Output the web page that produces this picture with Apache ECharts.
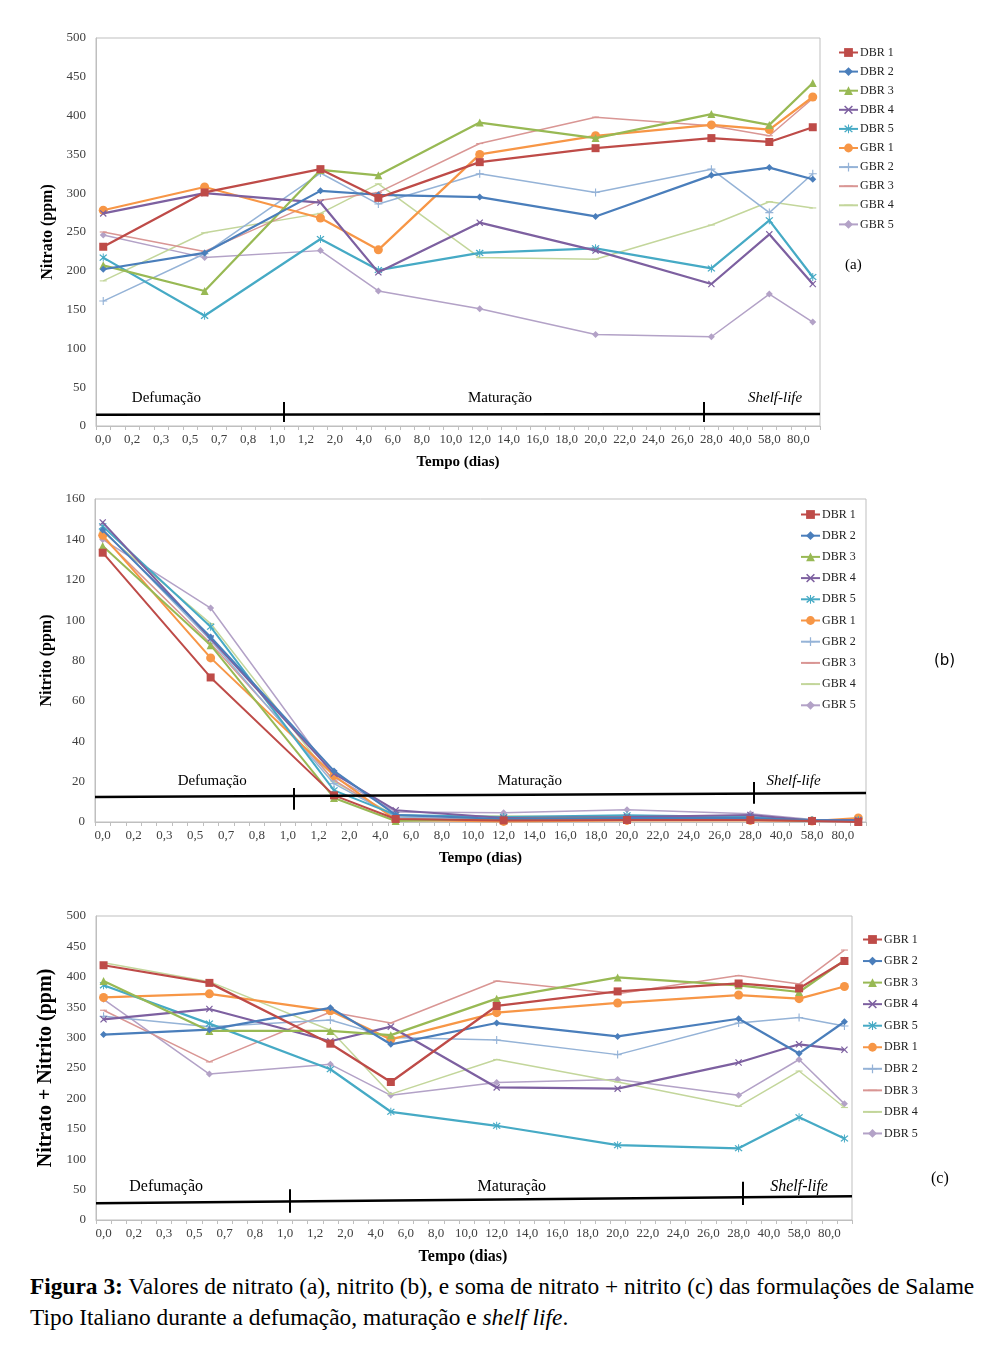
<!DOCTYPE html>
<html><head><meta charset="utf-8">
<script src="https://cdn.jsdelivr.net/npm/echarts@6/dist/echarts.min.js"></script>
<style>
html,body{margin:0;padding:0;background:#fff;}
#chart{position:absolute;left:0;top:0;width:1004px;height:1270px;}
#cap{position:absolute;left:30px;top:1271px;font-family:'Liberation Serif','Times New Roman',serif;font-size:23.4px;line-height:31px;color:#000;white-space:nowrap;}
</style></head><body>
<div id="chart"></div>
<div id="cap"><b>Figura 3:</b> Valores de nitrato (a), nitrito (b), e soma de nitrato + nitrito (c) das formulações de Salame<br>Tipo Italiano durante a defumação, maturação e <i>shelf life</i>.</div>
<script>
// ---------- axis categories / tick labels ----------
const tickLabels = ['0,0','0,2','0,3','0,5','0,7','0,8','1,0','1,2','2,0','4,0','6,0','8,0','10,0','12,0','14,0','16,0','18,0','20,0','22,0','24,0','26,0','28,0','40,0','58,0','80,0'];
// positions of the sampling days on the label scale (label index units)
const samplePos = [0, 3.5, 7.5, 9.5, 13, 17, 21, 23, 24.5];
const yTicksA = [0,50,100,150,200,250,300,350,400,450,500];
const yTicksB = [0,20,40,60,80,100,120,140,160];
const namesAB = ['DBR 1','DBR 2','DBR 3','DBR 4','DBR 5','GBR 1','GBR 2','GBR 3','GBR 4','GBR 5'];
const namesC  = ['GBR 1','GBR 2','GBR 3','GBR 4','GBR 5','DBR 1','DBR 2','DBR 3','DBR 4','DBR 5'];

// ---------- (a) Nitrato ----------
const nitratoDBR1 = [231, 301, 331, 294, 340, 358, 371, 366, 385];
const nitratoDBR2 = [202, 223, 303, 298, 295, 270, 323, 333, 318];
const nitratoDBR3 = [207, 174, 330, 323, 391, 371, 402, 388, 442];
const nitratoDBR4 = [274, 300, 288, 198, 262, 226, 183, 247, 183];
const nitratoDBR5 = [217, 142, 241, 201, 223, 229, 203, 265, 192];
const nitratoGBR1 = [278, 308, 268, 227, 350, 374, 388, 382, 424];
const nitratoGBR2 = [161, 222, 326, 286, 325, 301, 331, 275, 325];
const nitratoGBR3 = [250, 225, 291, 301, 364, 398, 387, 374, 422];
const nitratoGBR4 = [187, 249, 274, 312, 217, 215, 259, 289, 281];
const nitratoGBR5 = [246, 217, 226, 174, 151, 118, 115, 170, 134];

// ---------- (b) Nitrito ----------
const nitritoDBR1 = [133.4, 71.6, 13.2, 1.5, 0.8, 1.0, 1.0, 0.5, 0.0];
const nitritoDBR2 = [144.6, 91.7, 25.3, 3.5, 1.5, 2.0, 2.0, 0.8, 0.8];
const nitritoDBR3 = [136.7, 87.6, 11.9, 0.5, 1.5, 2.0, 1.5, 0.5, 0.5];
const nitritoDBR4 = [148.4, 90.9, 24.0, 5.8, 2.0, 2.5, 3.5, 0.8, 1.0];
const nitritoDBR5 = [146.5, 96.7, 15.7, 3.5, 2.5, 3.3, 2.5, 1.0, 1.0];
const nitritoGBR1 = [142.0, 81.3, 23.0, 1.0, 0.3, 0.8, 0.8, 0.5, 2.0];
const nitritoGBR2 = [145.0, 90.0, 19.0, 2.5, 1.0, 1.0, 1.5, 0.5, 0.5];
const nitritoGBR3 = [141.0, 88.4, 20.7, 2.0, 1.5, 1.5, 1.0, 0.5, 1.0];
const nitritoGBR4 = [143.8, 98.3, 20.0, 3.0, 3.0, 2.5, 2.0, 1.0, 0.5];
const nitritoGBR5 = [140.0, 106.0, 22.3, 5.0, 4.6, 6.1, 4.1, 1.3, 1.0];

// ---------- (c) Nitrato + Nitrito (legend order of panel c) ----------
const somaGBR1 = [419, 390, 290, 227, 352, 376, 389, 381, 426];
const somaGBR2 = [305, 313, 349, 289, 324, 302, 331, 274, 326];
const somaGBR3 = [393, 311, 311, 304, 364, 399, 386, 375, 427];
const somaGBR4 = [330, 347, 294, 318, 218, 216, 259, 289, 280];
const somaGBR5 = [386, 323, 248, 178, 155, 123, 118, 169, 134];
const somaDBR1 = [366, 372, 344, 297, 341, 357, 370, 364, 384];
const somaDBR2 = [335, 318, 329, 300, 296, 272, 324, 333, 319];
const somaDBR3 = [345, 260, 342, 324, 393, 372, 402, 388, 444];
const somaDBR4 = [423, 392, 312, 207, 264, 227, 187, 245, 185];
const somaDBR5 = [363, 240, 256, 205, 226, 231, 205, 264, 191];

const phaseNames = ['Defumação', 'Maturação', 'Shelf-life'];

// ---------- styling ----------
const FONT = "'Liberation Serif', 'Times New Roman', serif";
const colors = ['#BE4B48','#4A7EBB','#98B954','#7D60A0','#46AAC5','#F79646','#95B3D7','#D99694','#C3D69B','#B3A2C7'];
const CROSS = 'path://M0,1.2 L1.2,0 L5,3.8 L8.8,0 L10,1.2 L6.2,5 L10,8.8 L8.8,10 L5,6.2 L1.2,10 L0,8.8 L3.8,5 Z';
const STAR = 'path://M0,1.2 L1.2,0 L5,3.8 L8.8,0 L10,1.2 L6.2,5 L10,8.8 L8.8,10 L5,6.2 L1.2,10 L0,8.8 L3.8,5 Z M4.4,-1 L5.6,-1 L5.6,11 L4.4,11 Z';
const PLUS = 'path://M4.3,0 L5.7,0 L5.7,4.3 L10,4.3 L10,5.7 L5.7,5.7 L5.7,10 L4.3,10 L4.3,5.7 L0,5.7 L0,4.3 L4.3,4.3 Z';
const DASH = 'path://M0,0 M10,10 M0,4.2 L10,4.2 L10,5.8 L0,5.8 Z';
const syms = ['rect','diamond','triangle',CROSS,STAR,'circle',PLUS,DASH,DASH,'diamond'];
const symSizes = [8,7,8,7,8,9,8,7,7,7];

const grids = [], xAxes = [], yAxes = [], series = [], legends = [];
const xTickVals = []; for (let k = 0; k <= 50; k++) xTickVals.push(-0.25 + 0.5 * k);
const xLabelVals = tickLabels.map((_, i) => i);

function addPanel(k, prefix, names, dataList, g, yc, widths, lg, ann) {
  grids.push({left:g.l, top:g.t, width:g.w, height:g.h, show:true, borderColor:'#BFBFBF', borderWidth:1, backgroundColor:'rgba(0,0,0,0)'});
  xAxes.push({
    type:'value', gridIndex:k, min:-0.25, max:24.75,
    axisLine:{show:true, onZero:false, lineStyle:{color:'#BFBFBF', width:1}},
    axisTick:{show:true, customValues:xTickVals, length:4, lineStyle:{color:'#BFBFBF'}},
    axisLabel:{customValues:xLabelVals, formatter:(v)=>tickLabels[Math.round(v)], fontFamily:FONT, fontSize:13, color:'#404040', margin:7},
    splitLine:{show:false},
    name:'Tempo (dias)', nameLocation:'middle', nameGap:g.xGap,
    nameTextStyle:{fontFamily:FONT, fontWeight:'bold', fontSize:g.xFs, color:'#000', padding:g.xPad || 0}
  });
  yAxes.push({
    type:'value', gridIndex:k, min:yc.min, max:yc.max, interval:yc.interval,
    axisLine:{show:true, onZero:false, lineStyle:{color:'#BFBFBF'}},
    axisTick:{show:false},
    axisLabel:{fontFamily:FONT, fontSize:13, color:'#404040', margin:10},
    splitLine:{show:false},
    name:yc.name, nameLocation:'middle', nameGap:yc.gap,
    nameTextStyle:{fontFamily:FONT, fontWeight:'bold', fontSize:yc.fs, color:'#000'}
  });
  names.forEach((nm, i) => {
    series.push({
      type:'line', name:prefix + nm, xAxisIndex:k, yAxisIndex:k,
      data: dataList[i].map((v, j) => [samplePos[j], v]),
      symbol:syms[i], symbolSize:symSizes[i],
      lineStyle:{color:colors[i], width:widths[i]},
      itemStyle:{color:colors[i]},
      z: 3 + (10 - i) * 0.01
    });
  });
  legends.push({
    orient:'vertical', left:lg.l, top:lg.t, padding:0, itemGap:lg.gap,
    itemWidth:19, itemHeight:11,
    data: names.map(n => prefix + n),
    formatter:(n) => n.slice(2),
    textStyle:{fontFamily:FONT, fontSize:12, color:'#222', padding:[0,0,0,-3]}
  });
  // phase annotations (line + separators + labels)
  series.push({
    type:'line', name:prefix + 'phases', xAxisIndex:k, yAxisIndex:k, data:[], silent:true,
    markLine:{
      symbol:['none','none'], silent:true, animation:false,
      label:{show:false},
      lineStyle:{color:'#000', width:2.5, type:'solid'},
      data:[
        [{coord:[-0.25, ann.y0]}, {coord:[24.75, ann.y1]}],
        [{coord:[ann.s1, ann.t1[0]], lineStyle:{color:'#000', width:2, type:'solid'}}, {coord:[ann.s1, ann.t1[1]]}],
        [{coord:[ann.s2, ann.t2[0]], lineStyle:{color:'#000', width:2, type:'solid'}}, {coord:[ann.s2, ann.t2[1]]}]
      ]
    },
    markPoint:{
      silent:true, animation:false, symbol:'circle', symbolSize:1,
      itemStyle:{color:'rgba(0,0,0,0)'},
      label:{show:true, position:'inside', formatter:'{b}', fontFamily:FONT, fontSize:ann.fs, color:'#000'},
      data: phaseNames.map((p, i) => ({
        name:p, coord:[ann.tx[i], ann.ty],
        label: i === 2 ? {fontStyle:'italic'} : {}
      }))
    }
  });
}

addPanel(0, 'a:', namesAB,
  [nitratoDBR1,nitratoDBR2,nitratoDBR3,nitratoDBR4,nitratoDBR5,nitratoGBR1,nitratoGBR2,nitratoGBR3,nitratoGBR4,nitratoGBR5],
  {l:96, t:38, w:724, h:388, xGap:29, xFs:15},
  {min:0, max:500, interval:50, name:'Nitrato (ppm)', gap:38, fs:16},
  [2.25,2.25,2.25,2.25,2.25,2.25,1.5,1.5,1.5,1.5],
  {l:838, t:46.5, gap:7.1},
  {y0:14.5, y1:15.5, s1:6.25, t1:[5,31], s2:20.75, t2:[5,31], tx:[2.18,13.7,23.2], ty:36, fs:15});

addPanel(1, 'b:', namesAB,
  [nitritoDBR1,nitritoDBR2,nitritoDBR3,nitritoDBR4,nitritoDBR5,nitritoGBR1,nitritoGBR2,nitritoGBR3,nitritoGBR4,nitritoGBR5],
  {l:95, t:499, w:771, h:323, xGap:29, xFs:15},
  {min:0, max:160, interval:20, name:'Nitrito (ppm)', gap:27, fs:16},
  [2,2,2,2,2,2,1.5,1.5,1.5,1.5],
  {l:800, t:508.5, gap:9.2},
  {y0:12.4, y1:14.4, s1:6.21, t1:[6.1,16.8], s2:21.1, t2:[9.1,19.8], tx:[3.55,13.85,22.4], ty:20.2, fs:15});

addPanel(2, 'c:', namesC,
  [somaGBR1,somaGBR2,somaGBR3,somaGBR4,somaGBR5,somaDBR1,somaDBR2,somaDBR3,somaDBR4,somaDBR5],
  {l:96, t:916, w:756, h:304, xGap:29, xFs:16, xPad:[0,22,0,0]},
  {min:0, max:500, interval:50, name:'Nitrato + Nitrito (ppm)', gap:34, fs:20},
  [2.25,2.25,2.25,2.25,2.25,2.25,1.5,1.5,1.5,1.5],
  {l:862, t:933.5, gap:9.55},
  {y0:27.4, y1:39, s1:6.17, t1:[12,50.4], s2:21.13, t2:[24.6,63], tx:[2.07,13.5,23.0], ty:54.8, fs:16});

const chart = echarts.init(document.getElementById('chart'), null, {renderer:'canvas'});
chart.setOption({
  animation:false,
  backgroundColor:'#fff',
  grid:grids, xAxis:xAxes, yAxis:yAxes, series:series, legend:legends,
  graphic:[
    {type:'text', left:845, top:258, style:{text:'(a)', font:"15px 'Liberation Serif', serif", fill:'#000'}},
    {type:'text', left:934, top:654, style:{text:'(b)', font:"15px 'DejaVu Sans', sans-serif", fill:'#000'}},
    {type:'text', left:931, top:1171, style:{text:'(c)', font:"16px 'Liberation Serif', serif", fill:'#000'}}
  ]
});
</script>
</body></html>
